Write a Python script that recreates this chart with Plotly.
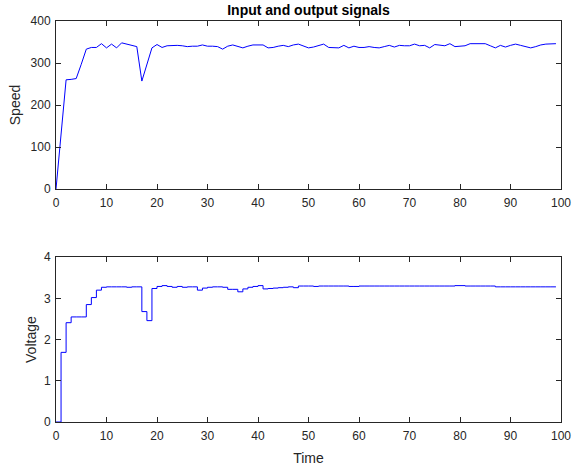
import plotly.graph_objects as go

# sample times
time = list(range(100))

# output: speed
speed = [0, 130, 260, 261, 263, 297, 333, 337, 337, 346,
         336, 345, 336, 348, 345, 342, 339, 257, 298, 336,
         344, 337, 341, 342, 342, 341, 339, 340, 340, 343,
         340, 340, 339, 333, 340, 343, 340, 336, 340, 343,
         343, 343, 336, 337, 340, 342, 339, 343, 345, 340,
         336, 338, 341, 345, 337, 336, 336, 342, 336, 340,
         337, 337, 339, 337, 336, 339, 342, 338, 342, 341,
         341, 345, 341, 342, 336, 344, 343, 341, 346, 339,
         340, 341, 346, 346, 346, 346, 341, 336, 342, 338,
         342, 345, 342, 339, 336, 339, 343, 345, 346, 346]

# input: voltage (held between samples)
voltage = [0, 1.69, 2.41, 2.55, 2.55, 2.55, 2.85, 3.02, 3.20, 3.27,
           3.28, 3.28, 3.28, 3.28, 3.27, 3.28, 3.28, 2.68, 2.46, 3.24,
           3.29, 3.31, 3.29, 3.27, 3.29, 3.27, 3.28, 3.28, 3.20, 3.25,
           3.27, 3.28, 3.28, 3.27, 3.22, 3.22, 3.16, 3.23, 3.27, 3.29,
           3.31, 3.23, 3.24, 3.25, 3.26, 3.27, 3.28, 3.26, 3.30, 3.30,
           3.30, 3.29, 3.30, 3.30, 3.30, 3.30, 3.30, 3.30, 3.29, 3.29,
           3.30, 3.30, 3.30, 3.30, 3.30, 3.30, 3.30, 3.30, 3.30, 3.30,
           3.30, 3.30, 3.30, 3.30, 3.30, 3.30, 3.30, 3.30, 3.30, 3.31,
           3.31, 3.30, 3.30, 3.30, 3.30, 3.30, 3.30, 3.28, 3.28, 3.28,
           3.28, 3.28, 3.28, 3.28, 3.28, 3.28, 3.28, 3.28, 3.28, 3.28]

ink = '#262626'
font = 'Liberation Sans, Arial, sans-serif'

fig = go.Figure()
fig.add_trace(go.Scatter(x=time, y=speed, mode='lines',
                         line=dict(color='#0000ff', width=1),
                         xaxis='x', yaxis='y'))
fig.add_trace(go.Scatter(x=time, y=voltage, mode='lines',
                         line=dict(color='#0000ff', width=1, shape='hv'),
                         xaxis='x2', yaxis='y2'))

ax = dict(showline=True, linecolor=ink, linewidth=1, mirror='ticks',
          ticks='inside', ticklen=5, tickcolor=ink, showgrid=False,
          zeroline=False, automargin=False,
          tickfont=dict(size=12, color=ink, family=font))
xax = dict(ax, domain=[0, 1], range=[0, 100], dtick=10, ticklabelstandoff=3)
yax = dict(ax, ticklabelstandoff=2)

fig.update_layout(
    width=574, height=468,
    margin=dict(l=56, r=13, t=21, b=46),
    paper_bgcolor='white', plot_bgcolor='white',
    showlegend=False,
    font=dict(family=font, color=ink, size=12),
    title=dict(text='<b>Input and output signals</b>', x=0.5, xref='paper',
               xanchor='center', y=1 - 10 / 468, yref='container',
               yanchor='middle',
               font=dict(size=14, color='black', family=font)),
    xaxis=dict(xax, anchor='y'),
    yaxis=dict(yax, domain=[0.581, 1], range=[0, 400], dtick=100, anchor='x',
               title=dict(text='Speed', font=dict(size=14, color=ink), standoff=6)),
    xaxis2=dict(xax, anchor='y2',
                title=dict(text='Time', font=dict(size=14, color=ink), standoff=10)),
    yaxis2=dict(yax, domain=[0, 0.411], range=[0, 4], dtick=1, anchor='x2',
                title=dict(text='Voltage', font=dict(size=14, color=ink), standoff=4)),
)

# drop the page's default body margin so the figure sits at the window corner
fig.write_html("out.html", config={'displayModeBar': False},
               post_script="document.body.style.margin='0px';")
